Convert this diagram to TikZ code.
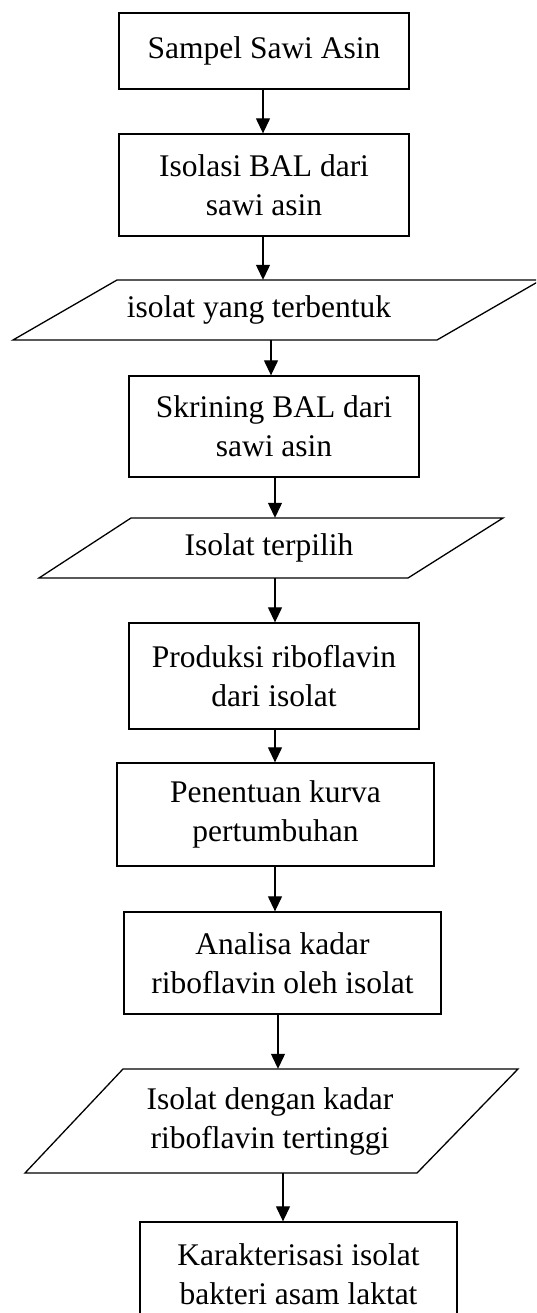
\documentclass[tikz,border=0pt]{standalone}
\usepackage{fontspec}
\setmainfont{Liberation Serif}
\usetikzlibrary{arrows.meta}
\begin{document}
\begin{tikzpicture}[x=1pt,y=-1pt,
  every node/.style={font=\fontsize{31.5}{39}\selectfont},
  procbox/.style={draw,line width=1.3pt,align=center,inner sep=0pt,minimum width=#1},
  iotext/.style={align=center,inner sep=0pt},
  iopath/.style={draw,line width=1.3pt,line join=miter},
  arr/.style={line width=1.2pt,-{Triangle[length=15pt,width=14pt]}}]
\useasboundingbox (0,0) rectangle (536,1313);
\clip (0,0) rectangle (536,1313);
% process boxes
\node[procbox=290pt,minimum height=76pt] (b1) at (264,51) {Sampel Sawi Asin};
\node[procbox=290pt,minimum height=102pt] (b2) at (264,185) {Isolasi BAL dari\\sawi asin};
\node[procbox=290pt,minimum height=101pt] (b3) at (274,426.5) {Skrining BAL dari\\sawi asin};
\node[procbox=290pt,minimum height=106pt] (b4) at (274,676) {Produksi riboflavin\\dari isolat};
\node[procbox=317pt,minimum height=103pt] (b5) at (275.5,814.5) {Penentuan kurva\\pertumbuhan};
\node[procbox=317pt,minimum height=102pt] (b6) at (282.5,963) {Analisa kadar\\riboflavin oleh isolat};
\node[procbox=317pt,minimum height=104pt] (b7) at (298.5,1274) {Karakterisasi isolat\\bakteri asam laktat};
% data (parallelogram) shapes
\draw[iopath] (117,280) -- (541,280) -- (437,340) -- (13,340) -- cycle;
\node[iotext,minimum height=60pt] (p1) at (259,310) {isolat yang terbentuk};
\draw[iopath] (131,518) -- (503,518) -- (408,578) -- (39,578) -- cycle;
\node[iotext,minimum height=60pt] (p2) at (269,548) {Isolat terpilih};
\draw[iopath] (123,1069) -- (518,1069) -- (417,1173) -- (25,1173) -- cycle;
\node[iotext,minimum height=104pt] (p3) at (270,1121) {Isolat dengan kadar\\riboflavin tertinggi};
% connectors
\draw[arr] ([xshift=-1pt]b1.south) -- ([xshift=-1pt]b2.north);
\draw[arr] ([xshift=-1pt]b2.south) -- ([xshift=-1pt]b2.south |- p1.north);
\draw[arr] ([xshift=-3pt]b3.north |- p1.south) -- ([xshift=-3pt]b3.north);
\draw[arr] ([xshift=1pt]b3.south) -- ([xshift=1pt]b3.south |- p2.north);
\draw[arr] ([xshift=1pt]b4.north |- p2.south) -- ([xshift=1pt]b4.north);
\draw[arr] ([xshift=1pt]b4.south) -- ([xshift=1pt]b4.south |- b5.north);
\draw[arr] ([xshift=-7.5pt]b5.south -| b6.north) -- ([xshift=-7.5pt]b6.north);
\draw[arr] ([xshift=-4.5pt]b6.south) -- ([xshift=-4.5pt]b6.south |- p3.north);
\draw[arr] ([xshift=-15.5pt]b7.north |- p3.south) -- ([xshift=-15.5pt]b7.north);
\end{tikzpicture}
\end{document}
